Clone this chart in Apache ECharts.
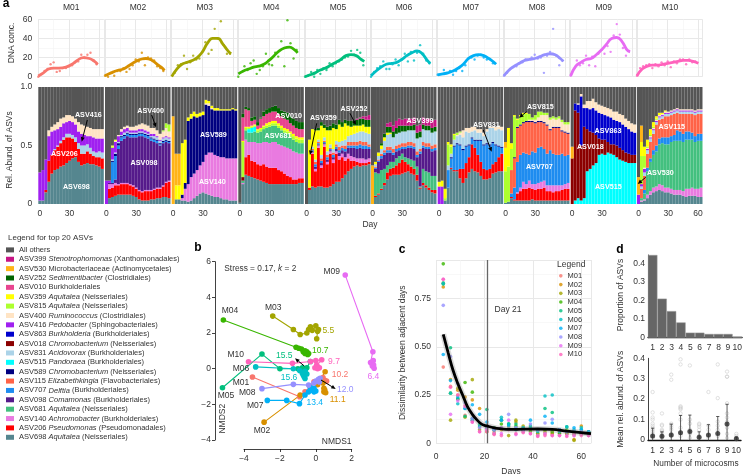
<!DOCTYPE html>
<html><head><meta charset="utf-8">
<style>html,body{margin:0;padding:0;background:#fff}#c{width:745px;height:474px}</style>
<script src="https://cdn.jsdelivr.net/npm/echarts@6/dist/echarts.min.js"></script>
</head><body><div id="c"></div>
<script>
const FONT='"Liberation Sans",Arial,sans-serif';
const microcosms=['M01','M02','M03','M04','M05','M06','M07','M08','M09','M10'];
const mColors=['#F8766D','#D89000','#A3A500','#39B600','#00BF7D','#00BFC4','#00B0F6','#9590FF','#E76BF3','#FF62BC'];
const stackOrder=['ASV698','ASV206','ASV140','ASV681','ASV098','ASV707','ASV115','ASV589','ASV515','ASV831','ASV018','ASV863','ASV416','ASV400','ASV815','ASV359','ASV010','ASV252','ASV530','ASV399'];
const asvColors={ASV399:'#C71585',ASV530:'#FFB416',ASV252:'#006400',ASV010:'#E8458F',ASV359:'#FFFF00',ASV815:'#ADFF2F',ASV400:'#FFE4C4',ASV416:'#A020F0',ASV863:'#0000CD',ASV018:'#8B0000',ASV831:'#ABD3E8',ASV515:'#00FFFF',ASV589:'#000080',ASV115:'#FF6347',ASV707:'#1E8CF0',ASV098:'#551A8B',ASV681:'#43C07F',ASV140:'#E97AE0',ASV206:'#FF0000',ASV698:'#55868F','All others':'#555555'};
const asvTaxa={ASV399:'{i|Stenotrophomonas} (Xanthomonadales)',ASV530:'Microbacteriaceae (Actinomycetales)',ASV252:'{i|Sedimentibacter} (Clostridiales)',ASV010:'Burkholderiales',ASV359:'{i|Aquitalea} (Neisseriales)',ASV815:'{i|Aquitalea} (Neisseriales)',ASV400:'{i|Ruminococcus} (Clostridiales)',ASV416:'{i|Pedobacter} (Sphingobacteriales)',ASV863:'{i|Burkholderia} (Burkholderiales)',ASV018:'{i|Chromobacterium} (Neisseriales)',ASV831:'{i|Acidovorax} (Burkholderiales)',ASV515:'{i|Pandoraea} (Burkholderiales)',ASV589:'{i|Chromobacterium} (Neisseriales)',ASV115:'{i|Elizabethkingia} (Flavobacteriales)',ASV707:'{i|Delftia} (Burkholderiales)',ASV098:'{i|Comamonas} (Burkholderiales)',ASV681:'{i|Aquitalea} (Neisseriales)',ASV140:'{i|Achromobacter} (Burkholderiales)',ASV206:'{i|Pseudomonas} (Pseudomonadales)',ASV698:'{i|Aquitalea} (Neisseriales)'};
const legendOrder=['All others','ASV399','ASV530','ASV252','ASV010','ASV359','ASV815','ASV400','ASV416','ASV863','ASV018','ASV831','ASV515','ASV589','ASV115','ASV707','ASV098','ASV681','ASV140','ASV206','ASV698'];
const stackDays=[0,3,6,9,12,15,18,21,24,27,30,33,36,39,42,45,48,51,54,57,60,63];

const stackM01={ASV698:[3,3,10,19,26,29,30,32,33,35,37,39,40,36,33,34,35,34,34,33,32,30],
ASV206:[0,0,2,18,16,17,19,20,22,22,20,17,13,11,10,9,10,9,7,7,8,9],
ASV831:[0,0,0,0,0,1,1,2,2,3,3,3,4,5,7,7,6,5,4,4,5,5],
ASV416:[24,26,26,21,20,16,14,12,12,10,11,11,11,10,10,9,7,10,12,12,11,12],
ASV400:[0,0,0,5,4,5,6,7,5,6,5,5,5,8,8,8,8,7,7,8,8,8]};
const stackM02={ASV698:[0,5,6,7,8,8,8,8,8,7,6,4,3,3,3,4,4,5,5,6,6,5],
ASV206:[0,8,8,9,8,9,9,9,8,8,7,7,7,8,8,7,8,8,8,9,12,14],
ASV140:[0,4,3,2,1,1,1,1,1,1,1,1,1,1,1,1,1,1,1,1,1,1],
ASV098:[0,1,1,3,30,36,38,40,40,41,43,46,47,45,44,42,40,38,36,36,34,32],
ASV707:[0,0,18,20,3,3,2,2,2,2,2,2,2,2,2,2,2,2,1,1,1,1],
ASV589:[0,0,1,2,2,1,1,1,1,1,1,1,1,1,1,1,1,1,1,1,1,1],
ASV831:[0,0,1,1,1,1,2,1,1,1,1,1,1,1,1,1,2,2,2,2,2,2],
ASV416:[20,2,10,9,5,3,3,3,2,2,2,2,2,2,2,2,2,1,1,1,1,1],
ASV400:[0,0,0,1,1,2,2,2,3,3,4,4,5,5,5,5,5,5,5,5,7,5],
ASV815:[0,0,1,0,0,0,0,0,0,0,0,0,0,0,0,0,0,0,0,1,4,6],
ASV359:[0,0,1,1,0,0,0,0,0,0,0,0,0,0,0,0,0,0,0,0,0,0]};
const stackM03={ASV698:[0,4,4,3,3,2,3,5,7,9,10,9,8,7,6,6,5,4,4,3,3,3],
ASV140:[0,0,0,2,10,15,20,21,22,24,26,33,36,37,36,35,35,36,35,36,36,36],
ASV589:[0,0,0,3,5,54,50,49,45,42,40,43,40,37,38,39,40,40,41,41,42,41],
ASV359:[0,12,12,44,37,3,4,4,3,3,3,3,2,2,2,2,1,1,1,1,1,1],
ASV400:[0,0,0,0,0,0,0,0,0,0,0,1,2,1,0,0,0,0,0,0,0,0],
ASV530:[75,27,27,0,0,0,0,0,0,0,0,0,0,0,0,0,0,0,0,0,0,0]};
const stackM04={ASV698:[1,17,25,24,23,22,21,20,19,18,17,17,17,17,17,17,17,17,17,17,18,18],
ASV018:[0,3,0,0,0,0,0,0,0,0,0,0,0,0,0,0,0,0,0,0,0,0],
ASV206:[0,0,15,18,14,14,13,13,15,14,14,14,14,12,11,9,7,6,4,4,4,4],
ASV140:[0,1,15,11,16,17,18,19,19,21,21,22,22,22,22,23,24,24,24,23,21,21],
ASV681:[0,2,8,8,8,9,9,10,11,12,14,14,14,14,13,12,12,10,10,9,9,9],
ASV515:[0,0,0,3,4,4,0,0,0,0,0,0,0,0,0,0,0,0,0,0,0,0],
ASV815:[0,30,2,1,1,1,2,2,2,2,2,2,2,2,2,2,2,3,3,3,3,3],
ASV359:[0,1,1,1,1,1,1,1,1,2,2,2,2,2,2,2,2,2,2,2,2,2],
ASV010:[0,20,15,14,4,4,3,8,8,8,8,8,8,8,8,8,8,7,7,7,7,7],
ASV252:[0,3,2,2,3,3,3,1,4,4,4,4,5,5,5,6,6,6,6,6,6,6]};
const stackM05={ASV698:[0,12,15,14,15,15,14,14,15,17,19,19,22,25,28,30,32,33,32,33,33,34],
ASV206:[0,2,28,14,33,16,35,20,28,18,24,19,18,12,11,7,5,3,3,2,2,2],
ASV140:[0,0,1,2,2,2,2,2,2,3,2,3,3,3,4,4,3,3,4,4,3,3],
ASV098:[0,0,1,2,1,2,1,2,1,2,2,3,3,5,5,7,8,8,9,8,9,8],
ASV707:[0,0,1,2,1,2,1,2,1,2,2,2,2,2,2,2,2,3,3,3,3,2],
ASV115:[0,0,1,2,1,2,1,2,1,2,2,3,2,3,3,3,3,3,3,3,3,2],
ASV831:[0,0,2,2,2,3,3,3,3,3,3,4,4,5,5,6,7,8,8,9,8,9],
ASV359:[0,41,15,25,8,25,8,18,12,18,10,15,12,14,9,7,7,6,5,6,5,6],
ASV252:[0,0,0,1,2,3,3,3,4,4,4,4,4,3,4,5,4,5,6,5,6,6],
ASV399:[0,0,0,0,0,0,0,0,0,0,0,0,0,0,0,0,0,1,1,2,3,4]};
const stackM06={ASV698:[0,6,8,12,16,21,24,25,25,25,26,27,28,26,25,20,13,16,14,12,10,9],
ASV206:[0,1,1,1,2,6,6,6,8,10,12,9,6,6,5,5,1,2,2,2,2,3],
ASV681:[0,20,17,16,12,6,6,5,6,6,5,4,5,6,7,7,1,12,12,13,12,12],
ASV098:[0,3,10,10,12,11,8,6,6,5,4,7,9,10,10,8,28,18,19,20,21,22],
ASV707:[0,1,1,2,2,2,2,2,2,2,2,2,2,2,2,2,2,2,2,2,2,2],
ASV115:[0,1,1,2,2,3,3,3,3,3,3,3,3,3,3,3,2,3,3,3,3,3],
ASV831:[0,2,3,4,8,10,11,10,10,10,10,10,10,10,11,11,10,11,11,11,11,11],
ASV359:[0,2,3,3,3,2,1,0,0,0,0,0,0,0,0,0,0,0,0,0,0,0],
ASV252:[0,0,0,2,3,5,5,5,5,6,5,5,4,4,5,5,5,4,4,4,4,4],
ASV530:[33,0,0,0,0,0,0,0,0,0,0,0,0,0,0,0,0,0,0,0,0,0],
ASV399:[0,0,0,0,0,3,4,5,6,6,5,6,6,6,6,6,6,6,6,6,6,6]};
const stackM07={ASV698:[0,0,3,14,30,28,28,22,18,22,27,30,28,27,24,21,21,22,26,27,28,28],
ASV206:[0,0,0,0,1,1,1,8,12,13,13,21,20,15,12,9,8,8,8,9,12,15],
ASV707:[0,0,0,15,8,20,22,20,16,14,10,5,6,12,18,20,22,20,18,14,9,5],
ASV589:[0,0,0,0,1,1,1,1,1,1,1,1,1,1,1,1,1,1,1,1,1,1],
ASV831:[0,0,0,4,3,5,6,8,10,12,10,5,8,6,6,7,10,14,12,12,14,14],
ASV416:[15,15,0,0,0,0,0,0,0,0,0,0,0,0,0,0,0,0,0,0,0,0],
ASV400:[0,0,0,0,0,0,1,2,6,3,4,4,3,3,3,3,2,1,1,3,3,3],
ASV815:[0,0,2,18,6,4,2,1,0,0,0,0,0,0,0,0,0,0,0,0,0,0],
ASV359:[4,5,8,2,2,1,0,0,0,0,0,0,0,0,0,0,0,0,0,0,0,0]};
const stackM08={ASV698:[1,2,5,3,3,3,3,3,3,4,3,3,3,3,3,3,3,3,3,3,3,3],
ASV206:[0,0,1,1,6,8,10,10,11,9,9,10,10,11,8,8,7,8,8,9,10,10],
ASV140:[0,0,0,0,1,3,6,4,6,4,5,5,6,6,5,5,6,5,5,4,4,5],
ASV707:[0,0,3,10,26,28,25,26,22,28,27,30,30,27,27,30,27,26,26,27,24,24],
ASV115:[0,0,20,25,29,25,25,27,28,25,25,22,21,22,24,17,22,23,23,19,20,18],
ASV589:[0,0,0,1,1,1,1,1,1,1,1,1,1,1,1,1,1,1,1,1,1,1],
ASV400:[0,0,0,0,0,0,0,0,1,1,2,3,5,6,8,8,7,6,7,7,6,7],
ASV815:[27,30,18,35,6,7,7,6,5,2,4,5,3,2,2,2,2,2,2,2,2,2],
ASV359:[20,33,5,1,1,1,1,1,0,0,0,0,0,0,0,0,0,0,0,0,0,0],
ASV530:[5,0,0,0,0,0,0,0,0,0,0,0,0,0,0,0,0,0,0,0,0,0]};
const stackM09={ASV515:[0,3,5,3,5,28,30,33,35,42,43,42,44,43,42,40,38,37,36,35,35,35],
ASV018:[39,77,73,47,61,36,32,28,24,14,12,13,9,8,9,10,10,9,8,8,7,7],
ASV863:[0,6,7,42,16,18,19,21,21,22,22,21,22,23,21,21,22,22,22,21,20,19],
ASV400:[0,0,1,2,3,6,7,8,7,7,7,7,7,7,7,8,7,8,7,7,7,7],
ASV530:[10,0,0,0,0,0,0,0,0,0,0,0,0,0,0,0,0,0,0,0,0,0]};
const stackM10={ASV698:[0,2,3,5,8,10,11,12,11,10,10,9,8,8,8,7,6,7,7,7,6,6],
ASV140:[0,1,1,3,3,4,4,5,5,4,4,4,4,4,4,4,7,6,7,6,7,8],
ASV681:[0,2,5,20,25,28,30,34,36,37,37,40,42,42,42,42,42,42,41,40,41,40],
ASV707:[0,0,3,3,3,4,5,5,5,6,6,5,5,9,8,7,7,7,6,5,6,6],
ASV115:[0,8,12,12,14,14,18,16,16,18,18,18,18,15,15,17,15,15,16,18,17,17],
ASV831:[0,2,3,3,3,3,2,2,2,2,2,2,2,2,2,2,2,2,2,2,2,2],
ASV416:[8,2,3,1,1,1,1,1,1,1,1,1,1,1,1,1,1,1,1,1,1,1],
ASV400:[0,0,1,1,1,1,1,1,1,1,1,1,1,1,1,1,1,1,1,1,1,1],
ASV815:[0,24,10,1,1,1,1,0,0,0,0,0,0,0,0,0,0,0,0,0,0,0],
ASV359:[0,12,8,6,5,4,2,2,1,1,0,0,0,0,0,0,0,0,0,0,0,0],
ASV530:[15,14,0,0,0,0,0,0,0,0,0,0,0,0,0,0,0,0,0,0,0,0]};
const stacks=[stackM01,stackM02,stackM03,stackM04,stackM05,stackM06,stackM07,stackM08,stackM09,stackM10];

const dnaCurveM01=[[0,0.7],[5,4],[10,8],[15,9],[20,9],[27,10],[33,13],[38,17],[44,20],[50,19],[55,16],[58,13]];
const dnaCurveM02=[[0,1],[6,4],[12,6.5],[18,8],[24,12],[30,16],[36,18.5],[40,19],[46,17],[52,12],[56,9],[58,6.5]];
const dnaCurveM03=[[0,0],[5,8],[10,13],[15,15],[20,17],[25,20],[30,26],[35,35],[40,40],[45,40],[50,34],[55,27],[58,24]];
const dnaCurveM04=[[0,3],[5,6],[10,8],[15,10],[20,11],[25,13],[30,17],[35,22],[40,27],[45,30],[50,31],[55,28],[58,25]];
const dnaCurveM05=[[0,0],[5,2],[10,4],[15,7],[20,9],[25,12],[30,15],[35,18],[40,22],[45,23],[50,22],[55,18],[58,16]];
const dnaCurveM06=[[0,1],[5,6],[10,10],[15,13],[20,14],[25,15],[30,18],[35,22],[40,25],[45,27],[50,24],[55,17],[58,14]];
const dnaCurveM07=[[0,2],[5,3],[10,4],[15,6],[20,9],[25,13],[30,19],[35,22],[40,23],[45,22],[50,19],[55,15],[57,13]];
const dnaCurveM08=[[0,1],[5,7],[10,11],[15,14],[20,17],[25,18],[30,19],[35,21],[40,23],[45,24],[50,23],[55,19],[58,16]];
const dnaCurveM09=[[0,1],[5,11],[10,15],[15,18],[20,19],[25,23],[30,28],[35,34],[40,40],[45,41],[50,37],[55,28],[58,26]];
const dnaCurveM10=[[0,1],[5,8],[10,11],[15,12],[20,12],[25,13],[30,14],[35,15],[40,16],[45,17],[50,17],[55,16],[60,14]];
const dnaCurves=[dnaCurveM01,dnaCurveM02,dnaCurveM03,dnaCurveM04,dnaCurveM05,dnaCurveM06,dnaCurveM07,dnaCurveM08,dnaCurveM09,dnaCurveM10];
const dnaPtsM01=[[0,0],[6,6],[9,8],[12,13],[15,15],[18,5],[21,6],[24,9],[27,9],[30,11],[33,12],[36,15],[39,16],[42,23],[45,20],[48,23],[51,25],[54,17],[57,13]];
const dnaPtsM02=[[0,1],[3,0],[6,4],[9,1],[12,6],[15,6],[18,9],[21,5],[24,8],[27,12],[30,18],[33,16],[36,25],[39,12],[42,20],[45,19],[48,17],[51,11],[54,9],[57,6]];
const dnaPtsM03=[[3,4],[6,12],[9,13],[12,22],[15,8],[18,15],[21,22],[24,18],[27,19],[33,36],[36,24],[39,28],[42,50],[45,40],[48,58],[51,33],[54,24],[57,24]];
const dnaPtsM04=[[0,0],[6,11],[9,7],[12,14],[15,17],[18,3],[21,7],[24,11],[27,24],[30,13],[33,12],[36,25],[39,21],[42,37],[45,11],[48,59],[51,35],[54,19],[57,28]];
const dnaPtsM05=[[0,0],[3,1],[6,5],[9,0],[12,7],[15,3],[18,9],[21,7],[24,14],[27,11],[30,14],[33,16],[36,18],[39,20],[42,21],[45,27],[48,23],[51,28],[54,25],[57,12]];
const dnaPtsM06=[[0,0],[3,5],[6,9],[9,11],[12,16],[15,8],[18,8],[21,13],[24,18],[27,12],[30,18],[33,24],[36,16],[39,26],[42,17],[45,25],[48,33],[51,24],[54,17],[57,14]];
const dnaPtsM07=[[0,2],[6,7],[9,4],[12,6],[15,2],[18,6],[21,9],[24,6],[27,12],[30,19],[33,20],[36,18],[39,22],[42,23],[45,20],[48,18],[54,14]];
const dnaPtsM08=[[0,1],[3,4],[6,8],[9,10],[12,11],[15,14],[18,15],[21,18],[27,20],[30,23],[33,19],[36,20],[39,4],[42,22],[45,26],[48,50],[51,22],[54,12],[57,17]];
const dnaPtsM09=[[0,1],[6,17],[9,12],[12,14],[15,22],[18,12],[21,21],[24,11],[27,24],[30,28],[33,24],[36,32],[39,26],[42,43],[45,55],[48,44],[51,30],[54,22],[57,27]];
const dnaPtsM10=[[0,1],[3,9],[6,11],[9,12],[12,13],[15,9],[18,13],[21,11],[24,15],[27,12],[30,16],[33,10],[36,16],[39,14],[42,18],[45,18],[48,13],[51,18],[54,15],[57,16]];
const dnaPts=[dnaPtsM01,dnaPtsM02,dnaPtsM03,dnaPtsM04,dnaPtsM05,dnaPtsM06,dnaPtsM07,dnaPtsM08,dnaPtsM09,dnaPtsM10];

const nmdsM01=[[-3.53,-0.47],[-0.9,-1.57],[-0.6,-1.3],[-0.32,-1.0],[-0.1,-0.73],[0.1,-0.8],[0.25,-0.6],[0.4,-0.5],[0.5,-0.65],[0.6,-0.7]];
const nmdsM02=[[-2.88,-3],[-0.87,-1.48],[0.1,-0.9],[0.52,-0.17],[0.25,-0.6],[0.4,-0.8],[0.5,-1.2],[0.45,-1.3],[0.55,-1.35],[0.45,-1.1]];
const nmdsM03=[[-2.4,2.95],[-1.25,2.2],[-0.87,1.92],[-0.5,2.0],[-0.4,2.2],[-0.3,2.35],[-0.2,2.15],[0,2.4],[0.1,2.1],[0.15,2.2],[0.05,1.68]];
const nmdsM04=[[-5.15,2.73],[-1.1,1.2],[-0.95,1.15],[-0.8,1.1],[-0.7,0.95],[-0.6,0.85],[-0.5,0.95],[-0.4,0.85],[-0.45,0.8],[-0.6,1.0]];
const nmdsM05=[[-5.2,-1.07],[-3,0.82],[-2,0],[-1,0],[-0.5,0.05],[-0.3,0.4],[-0.6,-0.1],[-0.7,-0.2],[-0.75,0.05]];
const nmdsM06=[[-3.35,0.1],[-1.25,0],[-0.9,-0.1],[-0.75,-0.25],[-0.7,-0.35],[-0.65,-0.45],[-0.6,-0.55],[-0.5,-0.3],[-0.6,-0.15]];
const nmdsM07=[[-2.7,-1.78],[-1.62,-1.78],[-0.91,-1.96],[-0.6,-1.48],[-0.4,-1.3],[-0.22,-1.2],[-0.1,-1.3],[0,-1.25],[-0.1,-1.1],[-0.3,-1.05]];
const nmdsM08=[[-3,-1.12],[-1.25,-0.88],[-0.4,-0.92],[-0.1,-0.8],[0,-0.7],[0.15,-0.6],[0.24,-0.54],[0.2,-0.75]];
const nmdsM09=[[1.64,5.25],[3.18,0.95],[3.05,0.35],[3.12,0.3],[3.2,0.45],[3.22,0.2],[3.25,0.02],[3.15,0.15]];
const nmdsM10=[[-3.75,0.39],[-1.3,0.3],[-0.3,0.4],[0.0,0.45],[0.33,0.5],[0.05,0.2],[0.1,0.1],[-0.05,0.05],[0.2,0.05],[0.1,0]];
const nmds=[nmdsM01,nmdsM02,nmdsM03,nmdsM04,nmdsM05,nmdsM06,nmdsM07,nmdsM08,nmdsM09,nmdsM10];

const dissimDays=[3,6,9,12,15,18,21,24,27,30,33,36,39,42,45,48,51,54,57,60,63];
const dissimM01=[.395,.295,.25,.145,.12,.08,.07,.06,.08,.08,.07,.06,.06,.04,.05,.05,.05,.05,.04,.05,.05];
const dissimM02=[.81,.33,.275,.24,.225,.18,.09,.08,.07,.09,.11,.07,.08,.05,.07,.06,.06,.05,.02,.09,.06];
const dissimM03=[.83,.12,.285,.135,.33,.07,.06,.05,.12,.04,.12,.09,.07,.05,.06,.05,.07,.05,.015,.05,.05];
const dissimM04=[.93,.26,.23,.315,.265,.09,.08,.07,.1,.1,.09,.07,.06,.07,.07,.06,.05,.07,.05,.05,.05];
const dissimM05=[.825,.495,.23,.14,.13,.1,.175,.08,.12,.1,.1,.08,.09,.07,.18,.16,.07,.085,.06,.07,.06];
const dissimM06=[.83,.26,.205,.18,.12,.09,.09,.07,.135,.1,.07,.08,.08,.06,.245,.25,.06,.085,.07,.08,.06];
const dissimM07=[.46,.325,.24,.18,.2,.15,.11,.07,.12,.09,.08,.07,.12,.07,.14,.105,.07,.06,.08,.07,.06];
const dissimM08=[.715,.45,.31,.21,.13,.08,.08,.07,.08,.15,.08,.07,.1,.07,.105,.125,.07,.06,.06,.06,.05];
const dissimM09=[.85,.15,.22,.19,.11,.06,.07,.05,.05,.12,.045,.06,.05,.04,.05,.04,.04,.04,.04,.05,.04];
const dissimM10=[.85,.29,.25,.195,.11,.06,.06,.045,.04,.07,.05,.055,.05,.035,.04,.04,.04,.035,.05,.04,.04];
const dissim=[dissimM01,dissimM02,dissimM03,dissimM04,dissimM05,dissimM06,dissimM07,dissimM08,dissimM09,dissimM10];
const dissimTrend=[[3,.565],[5,.47],[7,.38],[9,.31],[11,.25],[13,.19],[15,.15],[17,.12],[19,.098],[21,.09],[24,.08],[27,.075],[30,.072],[36,.073],[42,.074],[48,.072],[54,.063],[60,.055],[64,.05]];

const countLabels=['1','2','3','4','5','6','7','8','9','10'];
const asvProportion=[.445,.21,.143,.082,.027,.027,.02,.02,.02,.005];
const meanAbund=[.02,.018,.024,.036,.042,.013,.024,.032,.078,.006];
const errAbundHigh=[.058,.04,.078,.12,.122,.04,.075,.115,.175,.015];
const asvAbund=[[.235,.135,.11,.1,.08,.07,.06,.05,.04,.03,.02,.01],[.13,.075,.07,.05,.045,.04,.03,.02,.01],[.32,.295,.08,.07,.06,.05,.03,.02],[.395,.37,.165,.16,.155,.15,.13,.1,.06,.04,.02],[.365,.1,.08,.05,.03,.01],[.08,.075,.065,.05,.02,.01],[.235,.07,.05,.02,.01],[.37,.205,.09,.07,.05,.02],[.335,.31,.31,.18,.13,.11,.09,.06,.03,.01],[.03,.02,.01,.005]];

const panelLeft=[38.3,105,171.7,238.3,305,371,437.7,504,570.7,637];
const PW=65.5, TXT='#333';
const grids=[],xAxes=[],yAxes=[],series=[],gfx=[];
const ax=(g,x,y)=>{const k=grids.length;grids.push(g);x.gridIndex=k;y.gridIndex=k;xAxes.push(x);yAxes.push(y);return k;};
const hide={show:false};
const gridLineMaj={show:true,lineStyle:{color:'#e8e8e8',width:1}};
const gridLineMin={show:true,lineStyle:{color:'#f3f3f3',width:.6}};

// panel a
microcosms.forEach((m,i)=>{
  const g1=ax({left:panelLeft[i],top:19.3,width:PW,height:57.4},
   {type:'value',min:0,max:64,interval:30,axisLine:hide,axisTick:hide,axisLabel:hide,splitLine:gridLineMaj,minorSplitLine:gridLineMin,minorTick:{show:false,splitNumber:2}},
   {type:'value',min:0,max:60,interval:20,axisLine:hide,axisTick:hide,splitLine:gridLineMaj,minorSplitLine:gridLineMin,minorTick:{show:false,splitNumber:2},
    axisLabel:{show:i===0,fontFamily:FONT,fontSize:8.5,color:TXT,margin:6}});
  series.push({type:'scatter',name:'DNA pts '+m,xAxisIndex:g1,yAxisIndex:g1,data:dnaPts[i],symbolSize:2.4,itemStyle:{color:mColors[i]},silent:true});
  series.push({type:'line',name:'DNA '+m,xAxisIndex:g1,yAxisIndex:g1,data:dnaCurves[i],smooth:.5,showSymbol:false,lineStyle:{color:mColors[i],width:2.8},silent:true});

  const g2=ax({left:panelLeft[i],top:87,width:PW,height:117},
   {type:'category',data:stackDays,axisLine:hide,axisTick:hide,splitLine:hide,
    axisLabel:{interval:0,fontFamily:FONT,fontSize:8.5,color:TXT,margin:5,hideOverlap:false,
      formatter:v=>(v==='0'||v==='30'||(v==='60'&&i===9))?v:''}},
   {type:'value',min:0,max:100,interval:50,axisLine:hide,axisTick:hide,splitLine:hide,
    axisLabel:{show:i===0,fontFamily:FONT,fontSize:8.5,color:TXT,margin:6,formatter:v=>v===0?'0':(v/100).toFixed(1)}});
  const st=stacks[i], rest=stackDays.map((_,k)=>100);
  stackOrder.forEach(name=>{
    if(!st[name])return;
    st[name].forEach((v,k)=>rest[k]-=v);
    series.push({type:'bar',name,stack:m,xAxisIndex:g2,yAxisIndex:g2,data:st[name],barWidth:'100%',barCategoryGap:0,itemStyle:{color:asvColors[name]},silent:true});
  });
  series.push({type:'bar',name:'All others',stack:m,xAxisIndex:g2,yAxisIndex:g2,data:rest,barWidth:'100%',barCategoryGap:0,itemStyle:{color:asvColors['All others']},silent:true});
  T(m,panelLeft[i]+33,8,{size:8.5});
});

// panel b: range-frame axes on their own grid, marks on a wider data grid with the same scale
ax({left:244,top:261.7,width:107.7,height:178.3},
  {type:'value',min:-4,max:2,interval:2,offset:9,position:'bottom',splitLine:hide,axisLine:{lineStyle:{color:'#111',width:.8},onZero:false},axisTick:{length:3,lineStyle:{color:'#111',width:.8}},
   axisLabel:{fontFamily:FONT,fontSize:8.5,color:TXT,margin:5,formatter:v=>String(v).replace('-','\u2212')}},
  {type:'value',min:-4,max:6,interval:2,offset:29,splitLine:hide,axisLine:{lineStyle:{color:'#111',width:.8},onZero:false},axisTick:{length:3,lineStyle:{color:'#111',width:.8}},
   axisLabel:{fontFamily:FONT,fontSize:8.5,color:TXT,margin:4,formatter:v=>String(v).replace('-','\u2212')}});
const gb=ax({left:208.1,top:261.7,width:179.5,height:178.3},
  {type:'value',min:-6,max:4,interval:2,show:false},
  {type:'value',min:-4,max:6,interval:2,show:false});
microcosms.forEach((m,i)=>series.push({type:'line',name:'NMDS '+m,xAxisIndex:gb,yAxisIndex:gb,data:nmds[i],symbol:'circle',symbolSize:5.6,showSymbol:true,showAllSymbol:true,
  lineStyle:{color:mColors[i],width:1.1},itemStyle:{color:mColors[i]},silent:true}));

// panel c
const gc=ax({left:436,top:260,width:155,height:183.3},
  {type:'value',min:0,max:64,interval:20,axisLine:hide,axisTick:hide,splitLine:gridLineMaj,minorSplitLine:gridLineMin,minorTick:{show:false,splitNumber:2},
   axisLabel:{fontFamily:FONT,fontSize:8.5,color:TXT,margin:9,showMaxLabel:false}},
  {type:'value',min:0,max:.95,interval:.25,axisLine:hide,axisTick:hide,splitLine:gridLineMaj,minorSplitLine:gridLineMin,minorTick:{show:false,splitNumber:2},
   axisLabel:{fontFamily:FONT,fontSize:8.5,color:TXT,margin:5,showMaxLabel:false,formatter:v=>v===0?'0':v.toFixed(2)}});
microcosms.forEach((m,i)=>series.push({type:'scatter',name:m,xAxisIndex:gc,yAxisIndex:gc,data:dissimDays.map((d,k)=>[d,dissim[i][k]]),symbolSize:3.6,itemStyle:{color:mColors[i]},silent:true}));
series.push({type:'line',name:'trend band',xAxisIndex:gc,yAxisIndex:gc,data:dissimTrend,smooth:.4,showSymbol:false,lineStyle:{color:'#999',width:6,opacity:.35},silent:true});
series.push({type:'line',name:'trend',xAxisIndex:gc,yAxisIndex:gc,data:dissimTrend,smooth:.4,showSymbol:false,z:5,lineStyle:{color:'#000',width:2.8},silent:true,
  markLine:{silent:true,symbol:'none',label:hide,lineStyle:{color:'#666',width:1.3,type:'solid'},data:[{xAxis:21}]}});

// panel d
const axisDark={show:true,lineStyle:{color:'#111',width:.8}};
const gd1=ax({left:648,top:255,width:95,height:82.7},
  {type:'category',data:countLabels,axisLine:{show:true,lineStyle:{color:'#111',width:1.4}},axisTick:hide,axisLabel:{interval:0,fontFamily:FONT,fontSize:8.5,color:TXT,margin:5}},
  {type:'value',min:0,max:.445,interval:.1,splitLine:hide,axisLine:axisDark,axisTick:{length:2,lineStyle:{color:'#111',width:.8}},axisLabel:{fontFamily:FONT,fontSize:8.5,color:TXT,margin:3,showMaxLabel:false,formatter:v=>v===0?'0':v.toFixed(1)}});
series.push({type:'bar',name:'Proportion',xAxisIndex:gd1,yAxisIndex:gd1,data:asvProportion,barWidth:'100%',barCategoryGap:0,itemStyle:{color:'#666',borderColor:'#999',borderWidth:.5},silent:true});
const gd2=ax({left:648,top:358.3,width:93,height:81.7},
  {type:'category',data:countLabels,axisLine:{show:true,lineStyle:{color:'#111',width:1.4}},axisTick:hide,axisLabel:{interval:0,fontFamily:FONT,fontSize:8.5,color:TXT,margin:6}},
  {type:'value',min:0,max:.4,interval:.1,splitLine:hide,axisLine:axisDark,axisTick:{length:2,lineStyle:{color:'#111',width:.8}},axisLabel:{fontFamily:FONT,fontSize:8.5,color:TXT,margin:3,formatter:v=>v===0?'0':v.toFixed(1)}});
series.push({type:'scatter',name:'ASVs',xAxisIndex:gd2,yAxisIndex:gd2,symbolSize:3.4,data:asvAbund.flatMap((a,i)=>a.map(v=>[i,v])),itemStyle:{color:'rgba(0,0,0,0)',borderColor:'#c9c9c9',borderWidth:.7},silent:true});
series.push({type:'custom',name:'Err',xAxisIndex:gd2,yAxisIndex:gd2,silent:true,z:4,data:errAbundHigh.map((v,i)=>[i,0,v]),
  renderItem:(p,api)=>{const a=api.coord([api.value(0),api.value(1)]),b=api.coord([api.value(0),api.value(2)]);
   const s={stroke:'#333',lineWidth:.8};
   return {type:'group',children:[{type:'line',shape:{x1:a[0],y1:a[1],x2:b[0],y2:b[1]},style:s},{type:'line',shape:{x1:a[0]-1.6,y1:b[1],x2:a[0]+1.6,y2:b[1]},style:s}]};}});
series.push({type:'scatter',name:'Mean',xAxisIndex:gd2,yAxisIndex:gd2,z:5,symbolSize:5,data:meanAbund.map((v,i)=>[i,v]),itemStyle:{color:'#2b2b2b'},silent:true});

// text & annotations
function T(text,x,y,o={}){
  const style={text,x:0,y:0,fill:o.color||TXT,fontFamily:FONT,fontSize:o.size||8.5,fontWeight:o.bold?'bold':'normal',align:o.align||'center',verticalAlign:'middle',textAlign:o.align||'center',textVerticalAlign:'middle'};
  style.font=(o.bold?'bold ':'')+(o.size||8.5)+'px '+FONT;
  if(o.rich)style.rich=o.rich;
  gfx.push({type:'text',x,y,rotation:o.rot||0,z:100,silent:true,style});
}
function arrow(x1,y1,x2,y2){
  const a=Math.atan2(y2-y1,x2-x1),L=4.5,W=2;
  const bx=x2-L*Math.cos(a),by=y2-L*Math.sin(a);
  gfx.push({type:'line',z:100,silent:true,shape:{x1,y1,x2:bx,y2:by},style:{stroke:'#000',lineWidth:1}});
  gfx.push({type:'polygon',z:100,silent:true,shape:{points:[[x2,y2],[bx-W*Math.sin(a),by+W*Math.cos(a)],[bx+W*Math.sin(a),by-W*Math.cos(a)]]},style:{fill:'#000'}});
}
T('a',6,4,{bold:true,size:12,color:'#000'});
T('b',198,248,{bold:true,size:12,color:'#000'});
T('c',402,249.5,{bold:true,size:12,color:'#000'});
T('d',620,249.5,{bold:true,size:12,color:'#000'});
T('DNA conc.',12,43,{rot:Math.PI/2});
T('Rel. Abund. of ASVs',10,150,{rot:Math.PI/2});
T('Day',370,225);
const W={color:'#fff',bold:true,size:7.2};
[['ASV416',88.3,115],['ASV206',64.3,154],['ASV698',76.3,187.3],['ASV400',150.7,110.7],['ASV098',144,163],['ASV589',213.3,134.7],['ASV140',212.3,182],['ASV010',288.7,115.7],['ASV681',278,136],['ASV359',323.3,118],['ASV252',354,108.7],['ASV399',420,121],['ASV831',486.3,124.7],['ASV815',540.3,106.7],['ASV707',539.3,167],['ASV863',608,131.3],['ASV018',590.3,147],['ASV515',608.3,186.7],['ASV115',671.7,127],['ASV530',660.3,173.3]].forEach(a=>T(a[0],a[1],a[2],W));
arrow(87.3,120,81.7,141.7);arrow(151.7,115,156,127.3);arrow(316.7,123.3,310,155);arrow(350,113.3,356,125);arrow(483.3,130,491.7,151.7);arrow(526.7,111.7,519,117.7);arrow(645.7,177.3,637.7,184);

T('Legend for top 20 ASVs',8,238,{align:'left',size:8});
T('Stress = 0.17, {i|k} = 2',224.3,269,{align:'left',size:8.3,rich:{i:{fontStyle:'italic',fontSize:8.3,fontFamily:FONT,fill:TXT}}});
[['M09',331.7,271.7],['M03',273.3,307.3],['M04',230,310.7],['M10',235.7,354.3],['M06',241,369],['M01',241,382.3],['M08',247.3,392.7],['M07',255.3,405.7],['M05',226,396],['M02',262,430.7],['NMDS1',336.7,441.3]].forEach(a=>T(a[0],a[1],a[2]));
T('NMDS2',222.3,418.7,{rot:Math.PI/2});
[['5.5',328.3,330.3,2],['10.7',320.3,351,3],['15.5',284.3,356,4],['9.7',334,362,9],['15.6',289,378,5],['10.2',340,375,0],['12.0',345.3,389.3,7],['11.1',337.7,399.3,1],['13.4',314.7,402.3,6],['6.4',373.3,376.7,8]].forEach(a=>T(a[0],a[1],a[2],{color:mColors[a[3]]}));
arrow(304.3,366,295,358.3);arrow(321,380,335.7,389);
T('Dissimilarity between adjacent days',402.7,352.7,{rot:Math.PI/2});
T('Day 21',508,309.7);
T('Days',511,471.7);
T('Legend',557,265,{align:'left'});
T('Proportion of ASVs',620.7,295,{rot:Math.PI/2});
T('Mean rel. abund. of ASVs',620.7,399.3,{rot:Math.PI/2});
T('Number of microcosms',696,463.3,{size:8.3});

const chart=echarts.init(document.getElementById('c'));
chart.setOption({
  animation:false,backgroundColor:'#fff',textStyle:{fontFamily:FONT},
  grid:grids,xAxis:xAxes,yAxis:yAxes,series,graphic:{elements:gfx},
  legend:[
   {data:legendOrder,orient:'vertical',left:6,top:245.2,itemWidth:8,itemHeight:5,itemGap:0,selectedMode:false,padding:0,
    textStyle:{fontFamily:FONT,fontSize:7.5,color:TXT,lineHeight:9.37,padding:[0,0,0,0],rich:{i:{fontStyle:'italic',fontSize:7.5,fontFamily:FONT,color:TXT,lineHeight:9.37}}},
    formatter:n=>asvTaxa[n]?n+' '+asvTaxa[n]:n,icon:'rect'},
   {data:microcosms,orient:'vertical',left:559,top:271.5,itemWidth:3.6,itemHeight:3.6,itemGap:0,selectedMode:false,padding:0,icon:'circle',
    textStyle:{fontFamily:FONT,fontSize:7.5,color:TXT,lineHeight:8.73}}
  ]
});
</script></body></html>
